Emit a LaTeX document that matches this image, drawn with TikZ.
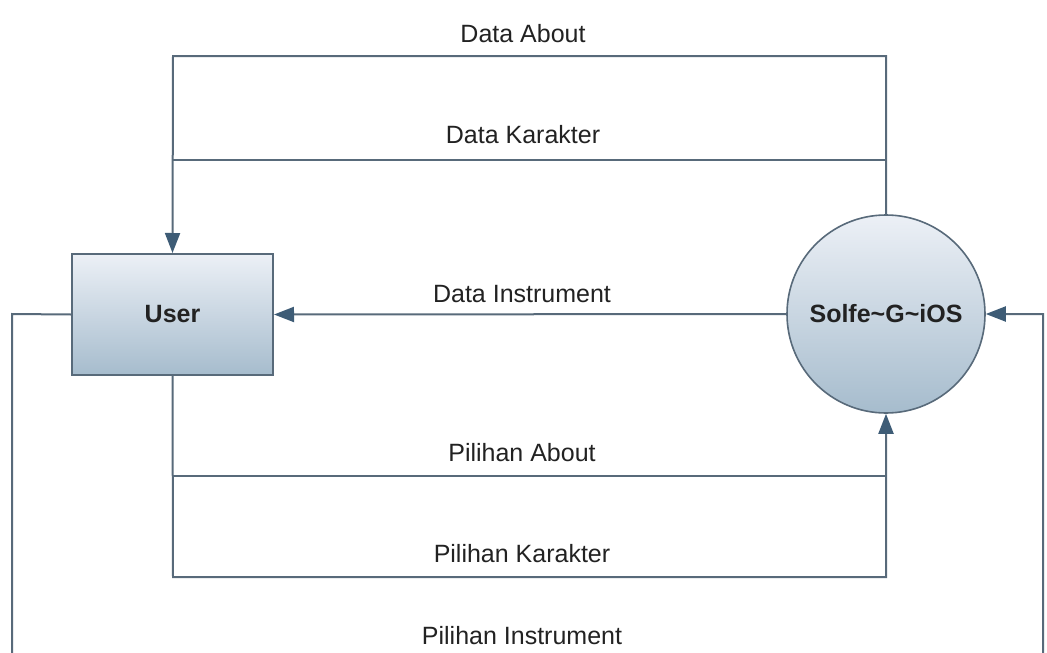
\documentclass[tikz,border=0pt]{standalone}
\usepackage{fontspec}
\setmainfont{Liberation Sans}
\usetikzlibrary{arrows.meta}
\definecolor{lineC}{RGB}{88,106,122}
\definecolor{arrC}{RGB}{62,92,118}
\definecolor{topF}{RGB}{236,240,246}
\definecolor{botF}{RGB}{166,188,205}
\definecolor{txtC}{RGB}{34,34,34}
\tikzset{
  flow/.style={draw=lineC, line width=2pt},
  arr/.style={flow, -{Triangle[length=20pt,width=15pt,fill=arrC,color=arrC]}},
  entity/.style={draw=lineC, line width=2pt, top color=topF, bottom color=botF,
    minimum width=201pt, minimum height=121pt, inner sep=0pt,
    font=\fontsize{25}{30}\selectfont\bfseries, text=txtC},
  proc/.style={circle, draw=lineC, line width=1.6pt, top color=topF, bottom color=botF,
    minimum size=198pt, inner sep=0pt,
    font=\fontsize{25}{30}\selectfont\bfseries, text=txtC},
  lbl/.style={anchor=base, inner sep=0pt, font=\fontsize{25}{30}\selectfont, text=txtC}
}
\begin{document}
\begin{tikzpicture}[x=1pt,y=-1pt]
\useasboundingbox (0,0) rectangle (1047,653);
\fill[white] (0,0) rectangle (1047,653);
\clip (0,0) rectangle (1047,653);

\node[entity] (user) at (172.5,314.5) {User};
\node[proc] (sys) at (886,314) {Solfe\textasciitilde G\textasciitilde iOS};

\coordinate (tl1) at (173,56);
\coordinate (tr1) at (886,56);
\coordinate (tl2) at (173,160);
\coordinate (tr2) at (886,160);
\coordinate (bl1) at (173,476);
\coordinate (br1) at (886,476);
\coordinate (bl2) at (173,577);
\coordinate (br2) at (886,577);
\coordinate (ol) at (12,314);
\coordinate (olb) at (12,700);
\coordinate (orb) at (1043,700);
\coordinate (or) at (1043,314);

% Data About / Data Karakter
\draw[arr] (sys.north) -- (tr1) -- (tl1) -- (user.north);
\draw[flow] (tr2) -- (tl2);
% Data Instrument
\draw[arr] (sys.west) -- (user.east);
% Pilihan About / Pilihan Karakter
\draw[arr] (user.south) -- (bl2) -- (br2) -- (sys.south);
\draw[flow] (bl1) -- (br1);
% Pilihan Instrument
\draw[arr] (user.west) -- (ol) -- (olb) -- (orb) -- (or) -- (sys.east);

\node[lbl] (l1) at (523,42) {Data About};
\node[lbl] (l2) at (523,143) {Data Karakter};
\node[lbl] (l3) at (522,302) {Data Instrument};
\node[lbl] (l4) at (522,461) {Pilihan About};
\node[lbl] (l5) at (522,562) {Pilihan Karakter};
\node[lbl] (l6) at (522,644) {Pilihan Instrument};
\end{tikzpicture}
\end{document}
